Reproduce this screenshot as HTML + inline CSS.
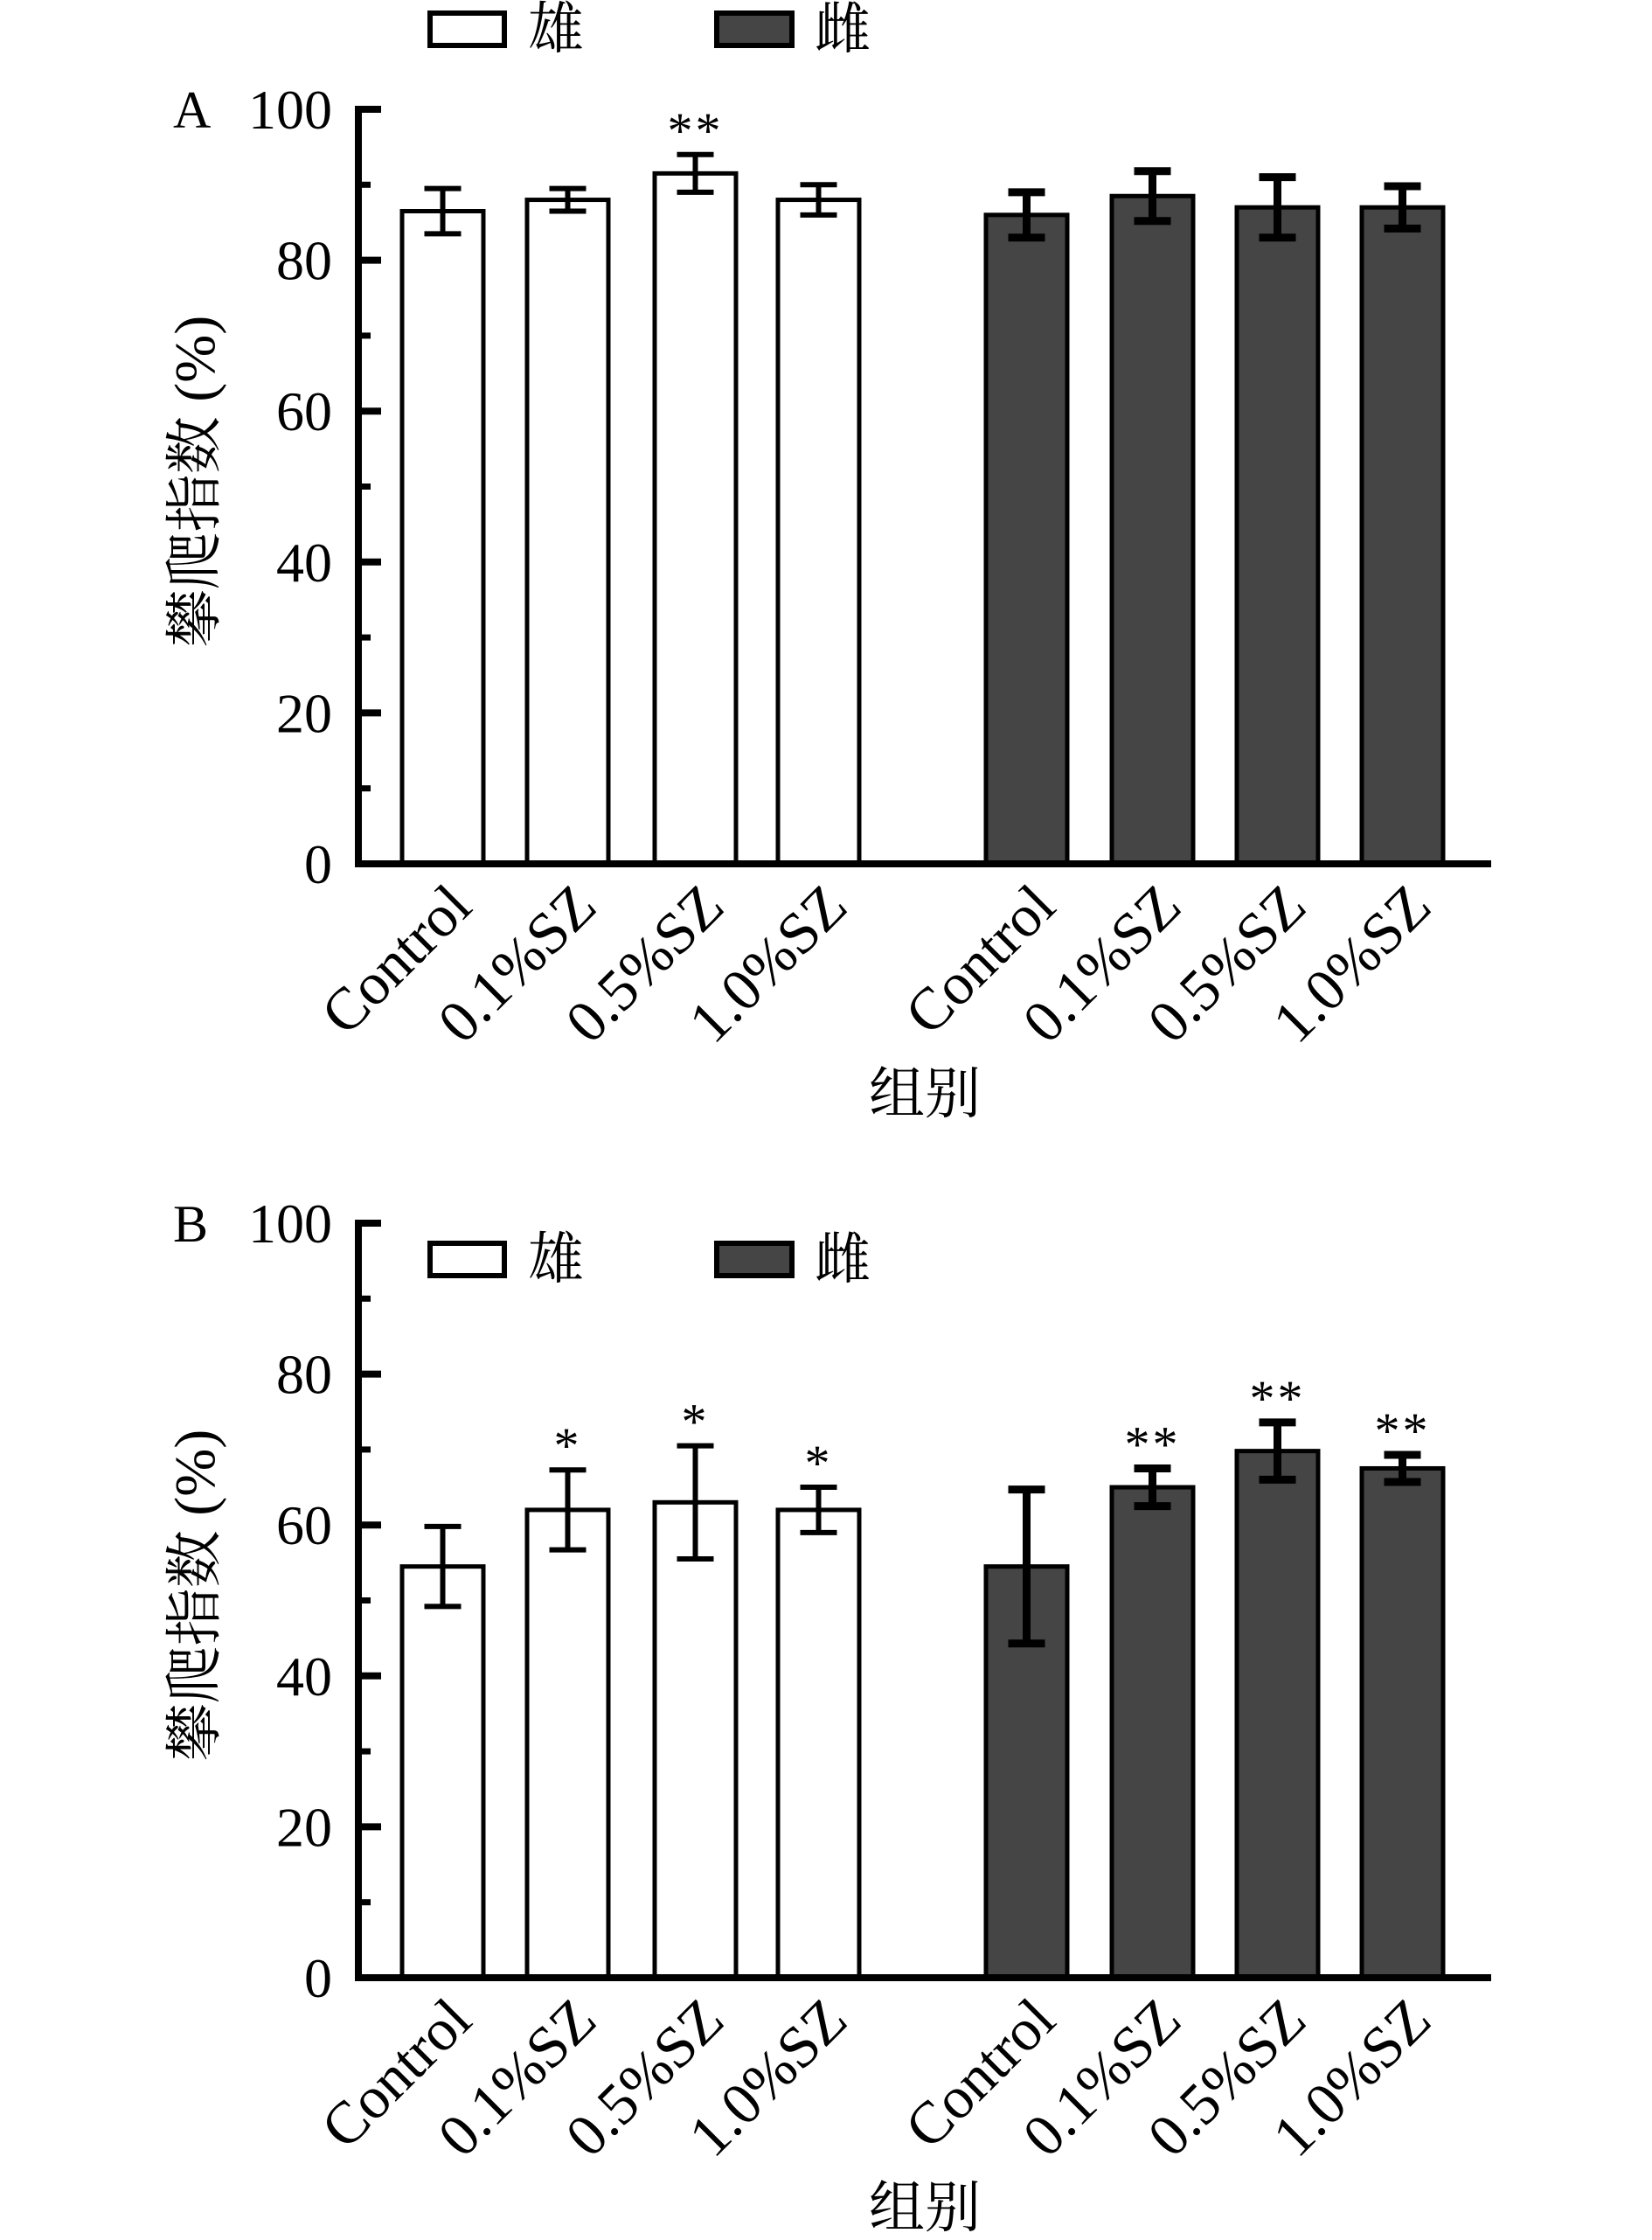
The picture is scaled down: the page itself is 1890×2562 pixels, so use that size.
<!DOCTYPE html>
<html><head><meta charset="utf-8"><style>
html,body{margin:0;padding:0;background:#fff;}
svg{display:block;font-family:"Liberation Serif","Noto Serif CJK SC",serif;}
</style></head><body>
<svg id="fig" width="1890" height="2562" viewBox="0 0 1890 2562"></svg>
<script>
const categories = ["Control","0.1%SZ","0.5%SZ","1.0%SZ"];
const yTicks = [0,20,40,60,80,100];
const maleA = [86.5,88,91.5,88];
const maleAErr = [3,1.5,2.5,2];
const femaleA = [86,88.5,87,87];
const femaleAErr = [3,3.3,4,2.8];
const maleB = [54.5,62,63,62];
const maleBErr = [5.3,5.3,7.5,3];
const femaleB = [54.5,65,69.8,67.5];
const femaleBErr = [10.2,2.5,3.8,1.8];
const sigA_m = ["","","**",""];
const sigA_f = ["","","",""];
const sigB_m = ["","*","*","*"];
const sigB_f = ["","**","**","**"];

const NS="http://www.w3.org/2000/svg";
const svg=document.getElementById('fig');
function mk(tag,attrs,parent,text){const e=document.createElementNS(NS,tag);for(const k in attrs)e.setAttribute(k,attrs[k]);if(text!==undefined)e.textContent=text;(parent||svg).appendChild(e);return e;}

const axX=410, axEnd=1706, barW=93;
const maleX=[460,603,749,890], femaleX=[1128,1272,1415,1558];

function legend(g,y){
  let r=mk('rect',{x:492,y:y,width:85,height:37,fill:'#fff',stroke:'#000','stroke-width':6},g);
  
  let t=mk('text',{x:604,y:y+40,'font-size':64},g,'雄');
  
  r=mk('rect',{x:820,y:y,width:86,height:37,fill:'#454545',stroke:'#000','stroke-width':6},g);
  
  t=mk('text',{x:932,y:y+40,'font-size':64},g,'雌');
  
}

function panel(name,letter,y100,y0,mv,me,fv,fe,ms,fs,legY){
  const g=mk('g',{});
  
  const ys=v=>y0-(y0-y100)*v/100;
  legend(g,legY);
  let t=mk('text',{x:198,y:y100+21,'font-size':60},g,letter);
  
  const series=[[mv,me,ms,maleX,'#fff',6,'male'],[fv,fe,fs,femaleX,'#454545',9,'female']];
  series.forEach(([vals,errs,sig,xs,fill,ew,sn])=>{
    vals.forEach((v,i)=>{
      const b=mk('rect',{x:xs[i],y:ys(v),width:barW,height:y0-ys(v),fill:fill,stroke:'#000','stroke-width':5},g);
      
      const cx=xs[i]+barW/2, hi=ys(v+errs[i]), lo=ys(v-errs[i]);
      const eg=mk('g',{stroke:'#000','stroke-width':ew},g);
      
      mk('line',{x1:cx,x2:cx,y1:hi,y2:lo},eg);
      mk('line',{x1:cx-21,x2:cx+21,y1:hi,y2:hi},eg);
      mk('line',{x1:cx-21,x2:cx+21,y1:lo,y2:lo},eg);
      if(sig[i]){const s=mk('text',{x:cx,y:hi-8,'font-size':58,'text-anchor':'middle','letter-spacing':3},g,sig[i]);
        }
      const lx=cx+36, ly=y0+52;
      const l=mk('text',{x:lx,y:ly,'font-size':68,'text-anchor':'end',transform:`rotate(-45 ${lx} ${ly})`},g,categories[i]);
      
    });
  });
  const ax=mk('g',{stroke:'#000'},g);
  
  mk('line',{x1:axX,x2:axX,y1:y100-4,y2:y0+4,'stroke-width':8},ax);
  mk('line',{x1:axX-4,x2:axEnd,y1:y0,y2:y0,'stroke-width':8},ax);
  yTicks.forEach(v=>{
    mk('line',{x1:axX,x2:axX+26,y1:ys(v),y2:ys(v),'stroke-width':8},ax);
    const tl=mk('text',{x:axX-30,y:ys(v)+22,'font-size':64,'text-anchor':'end'},g,String(v));
    
    if(v<100) mk('line',{x1:axX,x2:axX+14,y1:ys(v+10),y2:ys(v+10),'stroke-width':7},ax);
  });
  const yc=(y0+y100)/2-6;
  const yt=mk('text',{x:245,y:yc,'font-size':66,'text-anchor':'middle',transform:`rotate(-90 245 ${yc})`},g,'攀爬指数 (%)');
  
  const xt=mk('text',{x:1058,y:y0+285,'font-size':64,'text-anchor':'middle'},g,'组别');
  
}
panel('chart-a','A',125,988,maleA,maleAErr,femaleA,femaleAErr,sigA_m,sigA_f,15);
panel('chart-b','B',1399,2262,maleB,maleBErr,femaleB,femaleBErr,sigB_m,sigB_f,1422);
</script>
</body></html>
